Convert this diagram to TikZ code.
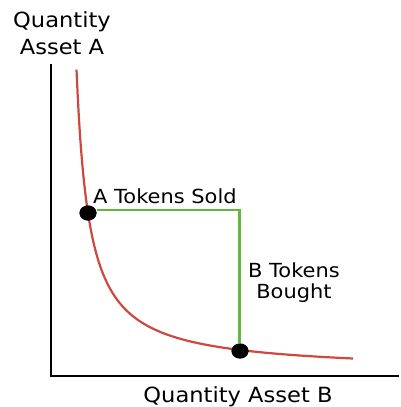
\documentclass[tikz,border=0pt]{standalone}
\usepackage{fontspec}
\setmainfont[FakeStretch=1.08]{DejaVu Sans}
\usetikzlibrary{shapes.geometric}
\definecolor{curvered}{RGB}{205,72,64}
\definecolor{tradegreen}{RGB}{96,184,60}
\begin{document}
\begin{tikzpicture}[x=1pt,y=-1pt,
  axis/.style={line width=1.6pt,black},
  curve/.style={line width=2.2pt,curvered},
  trade/.style={line width=2.8pt,tradegreen},
  dot/.style={ellipse,fill=black,inner sep=0pt,minimum width=17pt,minimum height=15pt},
  axislabel/.style={font=\fontsize{20.9}{27}\selectfont,align=center,inner sep=0pt},
  tradelabel/.style={font=\fontsize{19.4}{21}\selectfont,align=center,inner sep=0pt}]
  \useasboundingbox (0,0) rectangle (400,407);
  % axes
  \coordinate (ytop) at (51,64);
  \coordinate (origin) at (51,376);
  \coordinate (xend) at (399,376);
  \draw[axis] (ytop) -- (origin) -- (xend);
  % constant-product curve
  \draw[curve] plot[domain=76.5:353,samples=200,smooth] (\x,{371.8-3847/(\x-63.77)});
  % trade path
  \node[dot] (start) at (88,213) {};
  \node[dot] (finish) at (240,351) {};
  \coordinate (corner) at (239.5,210);
  \draw[trade] (start.east |- corner) -- (corner) -- (corner |- finish.north);
  \fill (start) ellipse (8.5pt and 7.5pt);
  \fill (finish) ellipse (8.5pt and 7.5pt);
  % labels (base anchor sits on the last line)
  \node[axislabel,anchor=base] (ylab) at (62,54) {Quantity\\Asset A};
  \node[axislabel,anchor=base] (xlab) at (238,402) {Quantity Asset B};
  \node[tradelabel,anchor=base west] (sold) at (93,203) {A Tokens Sold};
  \node[tradelabel,anchor=base] (bought) at (294,298) {B Tokens\\Bought};
\end{tikzpicture}
\end{document}
